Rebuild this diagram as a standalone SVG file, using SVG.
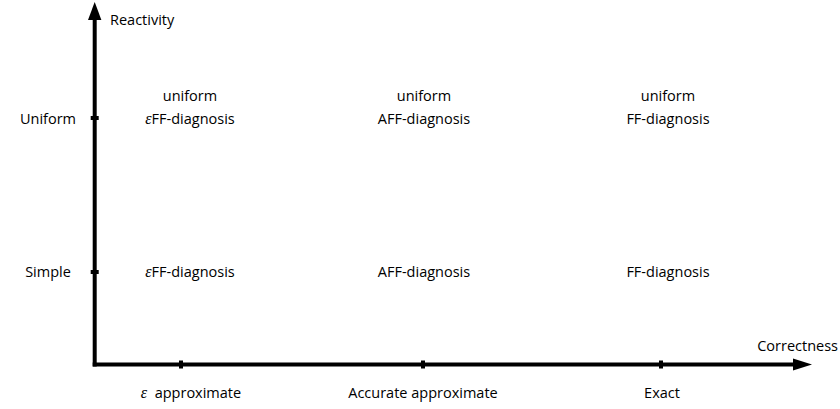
<svg xmlns="http://www.w3.org/2000/svg" width="840" height="409" viewBox="0 0 840 409">
<defs>
<style>
text{font-family:"Open Sans","Liberation Sans",sans-serif;font-size:14.5px;fill:#000}
.m{text-anchor:middle}
.e{font-family:"Liberation Serif",serif;font-style:italic;font-size:16px}
.ax{stroke:#000;stroke-width:4;fill:none}
.tk{fill:#000}
</style>
</defs>
<rect width="840" height="409" fill="#fff"/>
<g id="axes">
<path class="ax" d="M94.7,366.5 V18"/>
<path class="ax" d="M92.7,364.5 H795"/>
<polygon points="94.7,2 88,20 101.4,20" fill="#000"/>
<polygon points="812,364.5 793,358.5 793,370.5" fill="#000"/>
<rect class="tk" x="90.7" y="116" width="8" height="4"/>
<rect class="tk" x="90.7" y="270" width="8" height="4"/>
<rect class="tk" x="179" y="360.5" width="4" height="8"/>
<rect class="tk" x="421" y="360.5" width="4" height="8"/>
<rect class="tk" x="659" y="360.5" width="4" height="8"/>
<text x="110" y="25">Reactivity</text>
<text x="838" y="351" text-anchor="end">Correctness</text>
<text class="m" x="48" y="124">Uniform</text>
<text class="m" x="48" y="277">Simple</text>
<text class="m" x="191" y="398"><tspan class="e">ε</tspan>&#160; approximate</text>
<text class="m" x="423" y="398">Accurate approximate</text>
<text class="m" x="662" y="398">Exact</text>
</g>
<g id="n-ueff"><text class="m" x="190" y="101">uniform</text><text class="m" x="190" y="124"><tspan class="e">ε</tspan>FF-diagnosis</text></g>
<g id="n-uaff"><text class="m" x="424" y="101">uniform</text><text class="m" x="424" y="124">AFF-diagnosis</text></g>
<g id="n-uff"><text class="m" x="668" y="101">uniform</text><text class="m" x="668" y="124">FF-diagnosis</text></g>
<g id="n-eff"><text class="m" x="190" y="277"><tspan class="e">ε</tspan>FF-diagnosis</text></g>
<g id="n-aff"><text class="m" x="424" y="277">AFF-diagnosis</text></g>
<g id="n-ff"><text class="m" x="668" y="277">FF-diagnosis</text></g>
</svg>
